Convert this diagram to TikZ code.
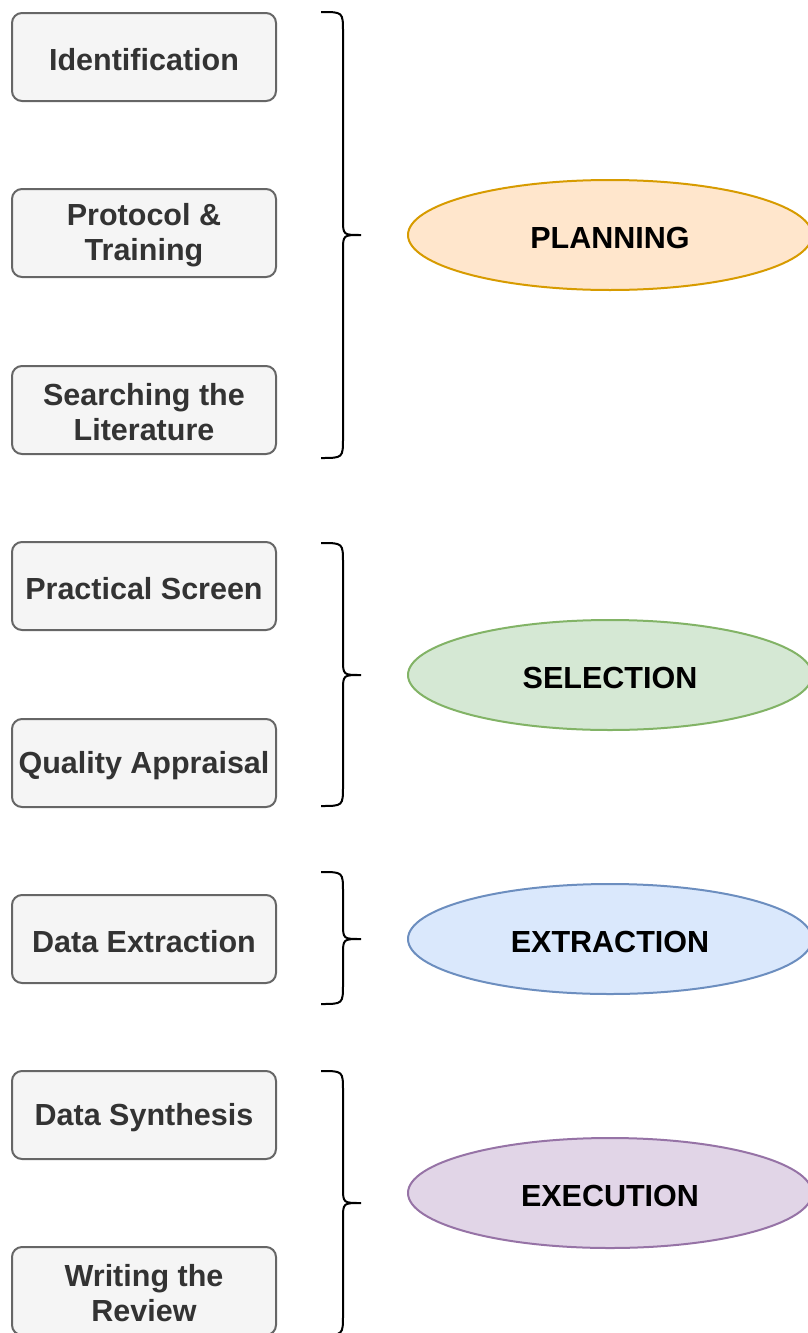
\documentclass[tikz,border=0pt]{standalone}
\usepackage{fontspec}
\setmainfont{Liberation Sans}
\usetikzlibrary{shapes.geometric}
\definecolor{boxfill}{HTML}{F5F5F5}
\definecolor{boxdraw}{HTML}{666666}
\definecolor{boxtext}{HTML}{333333}
\definecolor{orfill}{HTML}{FFE6CC}\definecolor{ordraw}{HTML}{D79B00}
\definecolor{grfill}{HTML}{D5E8D4}\definecolor{grdraw}{HTML}{82B366}
\definecolor{blfill}{HTML}{DAE8FC}\definecolor{bldraw}{HTML}{6C8EBF}
\definecolor{pufill}{HTML}{E1D5E7}\definecolor{pudraw}{HTML}{9673A6}
\tikzset{
  stepbox/.style={draw=boxdraw, fill=boxfill, line width=2pt, rounded corners=10pt,
    minimum width=264pt, minimum height=88pt, inner sep=0pt},
  steptext/.style={inner sep=0pt, align=center, text=boxtext,
    font=\fontsize{30.5}{35}\selectfont\bfseries, yshift=-2.5pt},
  phase/.style={ellipse, line width=2pt, minimum width=404pt, minimum height=110pt,
    inner sep=0pt},
  phasetext/.style={inner sep=0pt, font=\fontsize{30.5}{35}\selectfont\bfseries, yshift=-2.5pt},
  bracestyle/.style={draw=black, line width=2pt}
}
\newcommand\mybrace[3]{%
  \draw[bracestyle] (321,#1) .. controls (343,#1) .. (343,#1+20)
    -- (343,#2-16) .. controls (343,#2) .. (361,#2)
    .. controls (343,#2) .. (343,#2+16)
    -- (343,#3-20) .. controls (343,#3) .. (321,#3);}
\begin{document}
\begin{tikzpicture}[x=1pt,y=-1pt]
\useasboundingbox (0,0) rectangle (808,1333);
\node[stepbox, label={[steptext]center:Identification}] (s1) at (144,57) {};
\node[stepbox, label={[steptext]center:{Protocol \&\\Training}}] (s2) at (144,233) {};
\node[stepbox, label={[steptext]center:{Searching the\\Literature}}] (s3) at (144,410) {};
\node[stepbox, label={[steptext]center:Practical Screen}] (s4) at (144,586) {};
\node[stepbox, label={[steptext]center:Quality Appraisal}] (s5) at (144,763) {};
\node[stepbox, label={[steptext]center:Data Extraction}] (s6) at (144,939) {};
\node[stepbox, label={[steptext]center:Data Synthesis}] (s7) at (144,1115) {};
\node[stepbox, label={[steptext]center:{Writing the\\Review}}] (s8) at (144,1291) {};
\mybrace{12}{235}{458}
\mybrace{543}{675}{806}
\mybrace{872}{939}{1004}
\mybrace{1071}{1203}{1335}
\node[phase, fill=orfill, draw=ordraw, label={[phasetext]center:PLANNING}] (p1) at (610,235) {};
\node[phase, fill=grfill, draw=grdraw, label={[phasetext]center:SELECTION}] (p2) at (610,675) {};
\node[phase, fill=blfill, draw=bldraw, label={[phasetext]center:EXTRACTION}] (p3) at (610,939) {};
\node[phase, fill=pufill, draw=pudraw, label={[phasetext]center:EXECUTION}] (p4) at (610,1193) {};
\end{tikzpicture}
\end{document}
